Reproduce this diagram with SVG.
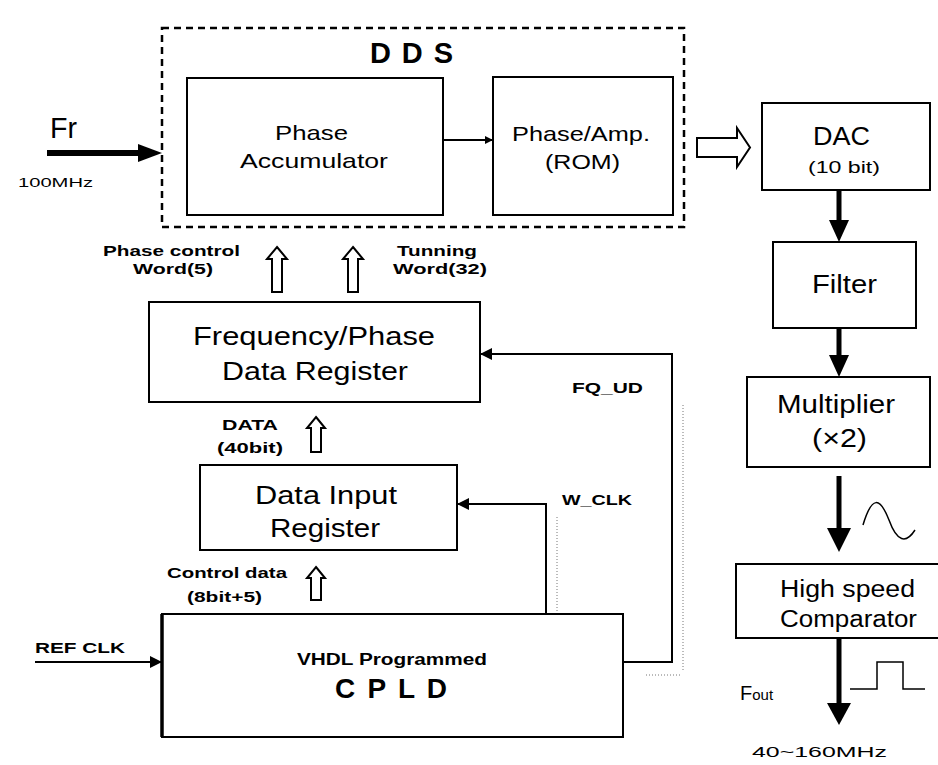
<svg xmlns="http://www.w3.org/2000/svg" width="938" height="765" viewBox="0 0 938 765">
  <style>
    .box { fill: #fff; stroke: #000; stroke-width: 2; }
    text { font-family: "Liberation Sans", Arial, sans-serif; fill: #000; }
    .lbl { font-size: 15px; font-weight: bold; }
    .mid { font-size: 21px; }
    .big { font-size: 25px; }
    .wire { fill: none; stroke: #000; stroke-width: 2; }
    .thick { fill: none; stroke: #000; stroke-width: 5; }
    .hollow { fill: #fff; stroke: #000; stroke-width: 2; stroke-linejoin: miter; }
    .ghost { fill: none; stroke: #777; stroke-width: 1; stroke-dasharray: 1 2; }
  </style>
  <defs>
    <marker id="tri" viewBox="0 0 10 10" refX="10" refY="5" markerWidth="8" markerHeight="8" markerUnits="userSpaceOnUse" orient="auto">
      <path d="M0,0 L10,5 L0,10 Z" fill="#000"/>
    </marker>
    <marker id="triL" viewBox="0 0 10 10" refX="10" refY="5" markerWidth="12" markerHeight="12" markerUnits="userSpaceOnUse" orient="auto">
      <path d="M0,0 L10,5 L0,10 Z" fill="#000"/>
    </marker>
  </defs>

  <rect width="938" height="765" fill="#fff"/>

  <!-- DDS enclosure -->
  <g id="dds">
    <rect x="162" y="28" width="522" height="199" fill="none" stroke="#000" stroke-width="2.5" stroke-dasharray="7 5"/>
    <text x="370" y="63" font-size="29" font-weight="bold" textLength="83" lengthAdjust="spacing">D D S</text>
  </g>

  <g id="phase-accumulator">
    <rect class="box" x="187" y="78" width="256" height="137"/>
    <text class="mid" x="275" y="140" textLength="73" lengthAdjust="spacingAndGlyphs">Phase</text>
    <text class="mid" x="240" y="168" textLength="148" lengthAdjust="spacingAndGlyphs">Accumulator</text>
  </g>

  <g id="phase-amp-rom">
    <rect class="box" x="493" y="77" width="180" height="138"/>
    <text class="mid" x="512" y="141" textLength="138" lengthAdjust="spacingAndGlyphs">Phase/Amp.</text>
    <text class="mid" x="545" y="169" textLength="75" lengthAdjust="spacingAndGlyphs">(ROM)</text>
  </g>

  <g id="dac">
    <rect class="box" x="762" y="103" width="168" height="87"/>
    <text x="813" y="145" font-size="26" textLength="57" lengthAdjust="spacingAndGlyphs">DAC</text>
    <text x="808" y="173" font-size="16" textLength="72" lengthAdjust="spacingAndGlyphs">(10 bit)</text>
  </g>

  <g id="filter">
    <rect class="box" x="773" y="242" width="143" height="86"/>
    <text class="big" x="812" y="293" textLength="65" lengthAdjust="spacingAndGlyphs">Filter</text>
  </g>

  <g id="multiplier">
    <rect class="box" x="747" y="377" width="183" height="90"/>
    <text class="big" x="777" y="413" textLength="118" lengthAdjust="spacingAndGlyphs">Multiplier</text>
    <text class="big" x="812" y="447" textLength="55" lengthAdjust="spacingAndGlyphs">(×2)</text>
  </g>

  <g id="comparator">
    <rect class="box" x="736" y="564" width="210" height="74"/>
    <text x="780" y="597" font-size="23" textLength="135" lengthAdjust="spacingAndGlyphs">High speed</text>
    <text x="780" y="627" font-size="23" textLength="137" lengthAdjust="spacingAndGlyphs">Comparator</text>
  </g>

  <g id="freq-phase-register">
    <rect class="box" x="149" y="302" width="331" height="100"/>
    <text class="big" x="193" y="345" textLength="242" lengthAdjust="spacingAndGlyphs">Frequency/Phase</text>
    <text class="big" x="222" y="380" textLength="186" lengthAdjust="spacingAndGlyphs">Data Register</text>
  </g>

  <g id="data-input-register">
    <rect class="box" x="200" y="465" width="257" height="85"/>
    <text class="big" x="255" y="504" textLength="142" lengthAdjust="spacingAndGlyphs">Data Input</text>
    <text class="big" x="270" y="537" textLength="110" lengthAdjust="spacingAndGlyphs">Register</text>
  </g>

  <g id="cpld">
    <rect class="box" x="162" y="614" width="461" height="123"/>
    <line x1="162" y1="614" x2="162" y2="737" stroke="#000" stroke-width="3.5"/>
    <text x="297" y="665" font-size="16" font-weight="bold" textLength="190" lengthAdjust="spacingAndGlyphs">VHDL Programmed</text>
    <text x="335" y="698" font-size="28" font-weight="bold" textLength="112" lengthAdjust="spacing">C P L D</text>
  </g>

  <!-- labels -->
  <g id="labels">
    <text x="50" y="138" font-size="29" textLength="27" lengthAdjust="spacingAndGlyphs">Fr</text>
    <text x="18" y="187" font-size="12" textLength="75" lengthAdjust="spacingAndGlyphs">100MHz</text>
    <text class="lbl" x="103" y="256" textLength="137" lengthAdjust="spacingAndGlyphs">Phase control</text>
    <text class="lbl" x="133" y="274" textLength="80" lengthAdjust="spacingAndGlyphs">Word(5)</text>
    <text class="lbl" x="397" y="256" textLength="80" lengthAdjust="spacingAndGlyphs">Tunning</text>
    <text class="lbl" x="393" y="274" textLength="94" lengthAdjust="spacingAndGlyphs">Word(32)</text>
    <text class="lbl" x="222" y="430" textLength="56" lengthAdjust="spacingAndGlyphs">DATA</text>
    <text class="lbl" x="217" y="453" textLength="66" lengthAdjust="spacingAndGlyphs">(40bit)</text>
    <text class="lbl" x="167" y="578" textLength="120" lengthAdjust="spacingAndGlyphs">Control data</text>
    <text class="lbl" x="187" y="602" textLength="75" lengthAdjust="spacingAndGlyphs">(8bit+5)</text>
    <text class="lbl" x="35" y="653" textLength="90" lengthAdjust="spacingAndGlyphs">REF CLK</text>
    <text class="lbl" x="562" y="505" textLength="70" lengthAdjust="spacingAndGlyphs">W_CLK</text>
    <text class="lbl" x="572" y="393" textLength="71" lengthAdjust="spacingAndGlyphs">FQ_UD</text>
    <text x="740" y="700" font-size="20">F<tspan font-size="15">out</tspan></text>
    <text x="752" y="757" font-size="14" textLength="135" lengthAdjust="spacingAndGlyphs">40~160MHz</text>
  </g>

  <!-- connectors -->
  <g id="connectors">
    <!-- Fr input -->
    <line x1="47" y1="153" x2="140" y2="153" stroke="#000" stroke-width="6"/>
    <path d="M138,144 L162,153 L138,162 Z" fill="#000"/>
    <!-- accumulator to ROM -->
    <line class="wire" x1="443" y1="140" x2="493" y2="140" marker-end="url(#tri)"/>
    <!-- ROM to DAC bus -->
    <path class="hollow" d="M697,138 L737,138 L737,128 L750,147.5 L737,167 L737,157 L697,157 Z"/>
    <!-- thick signal chain -->
    <line class="thick" x1="839" y1="190" x2="839" y2="222"/>
    <path d="M829,220 L849,220 L839,242 Z" fill="#000"/>
    <line class="thick" x1="839" y1="328" x2="839" y2="357"/>
    <path d="M829,355 L849,355 L839,377 Z" fill="#000"/>
    <line class="thick" x1="839" y1="476" x2="839" y2="530"/>
    <path d="M827,528 L851,528 L839,552 Z" fill="#000"/>
    <line class="thick" x1="839" y1="638" x2="839" y2="705"/>
    <path d="M827,703 L851,703 L839,725 Z" fill="#000"/>
    <!-- waveforms -->
    <path d="M863,525 C872,495 880,497 889,520 C897,542 906,544 915,530" fill="none" stroke="#000" stroke-width="1.5"/>
    <path d="M850,689 L877,689 L877,662 L903,662 L903,689 L925,689" fill="none" stroke="#000" stroke-width="1.5"/>
    <!-- hollow bus arrows -->
    <path class="hollow" d="M277,247 L287,259 L282,259 L282,292 L272,292 L272,259 L267,259 Z"/>
    <path class="hollow" d="M353,247 L363,259 L358,259 L358,292 L348,292 L348,259 L343,259 Z"/>
    <path class="hollow" d="M316,417 L325,428 L321,428 L321,452 L311,452 L311,428 L307,428 Z"/>
    <path class="hollow" d="M316,567 L325,578 L321,578 L321,600 L311,600 L311,578 L307,578 Z"/>
    <!-- REF CLK -->
    <line class="wire" x1="35" y1="662" x2="162" y2="662" stroke-width="1.5" marker-end="url(#triL)"/>
    <!-- W_CLK -->
    <polyline class="wire" points="546,614 546,504 457,504" marker-end="url(#triL)"/>
    <!-- FQ_UD -->
    <polyline class="wire" points="623,662 672,662 672,354 480,354" marker-end="url(#triL)"/>
    <!-- faint trace lines -->
    <line class="ghost" x1="557" y1="517" x2="557" y2="612"/>
    <line class="ghost" x1="683" y1="405" x2="683" y2="672"/>
    <line class="ghost" x1="646" y1="675" x2="680" y2="675"/>
  </g>
</svg>
